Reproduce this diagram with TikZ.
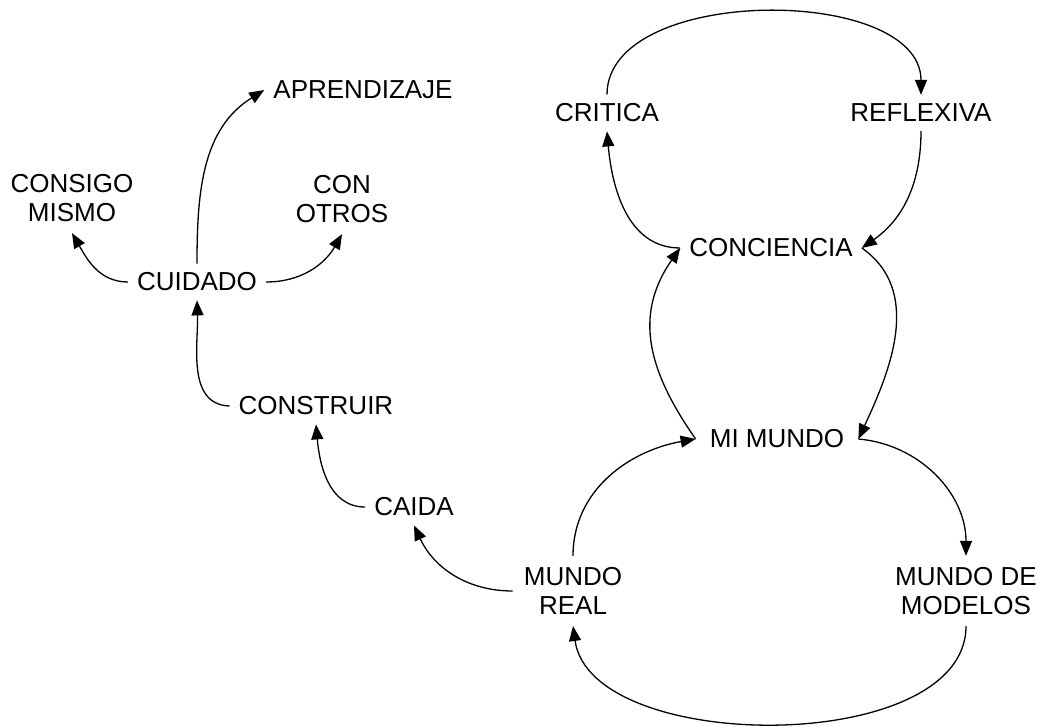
\documentclass[tikz,border=0pt]{standalone}
\usepackage{fontspec}
\setmainfont{Liberation Sans}
\usetikzlibrary{arrows.meta}
\begin{document}
\begin{tikzpicture}[x=1pt,y=1pt,
  lbl/.style={inner sep=9pt, align=center, font=\fontsize{26}{29.5}\selectfont},
  lbl2/.style={lbl, inner sep=11pt},
  conn/.style={line width=1.3pt, -{Triangle[length=15pt,width=12pt]}}]
\useasboundingbox (0,0) rectangle (1042,-727);
\node[lbl] (apr) at (363,-90) {APRENDIZAJE};
\node[lbl2] (consigo) at (72,-198) {CONSIGO\\MISMO};
\node[lbl2] (otros) at (342,-199) {CON\\OTROS};
\node[lbl] (cuidado) at (197,-282) {CUIDADO};
\node[lbl] (construir) at (316,-406) {CONSTRUIR};
\node[lbl] (caida) at (414,-507) {CAIDA};
\node[lbl2] (mreal) at (573,-591) {MUNDO\\REAL};
\node[lbl, inner xsep=14pt] (mimundo) at (777,-439) {MI MUNDO};
\node[lbl2] (mmodelos) at (966,-591) {MUNDO DE\\MODELOS};
\node[lbl] (critica) at (607,-113) {CRITICA};
\node[lbl] (reflexiva) at (921,-113) {REFLEXIVA};
\node[lbl] (conciencia) at (771,-248) {CONCIENCIA};

\draw[conn] (cuidado.north) to[out=90,in=212] (apr.west);
\draw[conn] (cuidado.west) to[out=180,in=-60] (consigo.south);
\draw[conn] (cuidado.east) to[out=0,in=240] (otros.south);
\draw[conn] (construir.west) to[out=178,in=-88] (cuidado.south);
\draw[conn] (caida.west) to[out=180,in=-85] (construir.south);
\draw[conn] (mreal.west) to[out=180,in=-65] (caida.south);
\draw[conn] (mreal.north) to[out=90,in=190] (mimundo.west);
\draw[conn] (mimundo.east) to[out=-5,in=90] (mmodelos.north);
\draw[conn] (mmodelos.south) to[out=-90,in=-82,looseness=0.85] (mreal.south);
\draw[conn] (mimundo.west) to[out=125,in=235,looseness=1.1] (conciencia.west);
\draw[conn] (conciencia.east) to[out=-35,in=65] (mimundo.east);
\draw[conn] (conciencia.west) to[out=180,in=-85] (critica.south);
\draw[conn] (critica.north) to[out=90,in=90,looseness=0.9] (reflexiva.north);
\draw[conn] (reflexiva.south) to[out=-90,in=35] (conciencia.east);
\end{tikzpicture}
\end{document}
